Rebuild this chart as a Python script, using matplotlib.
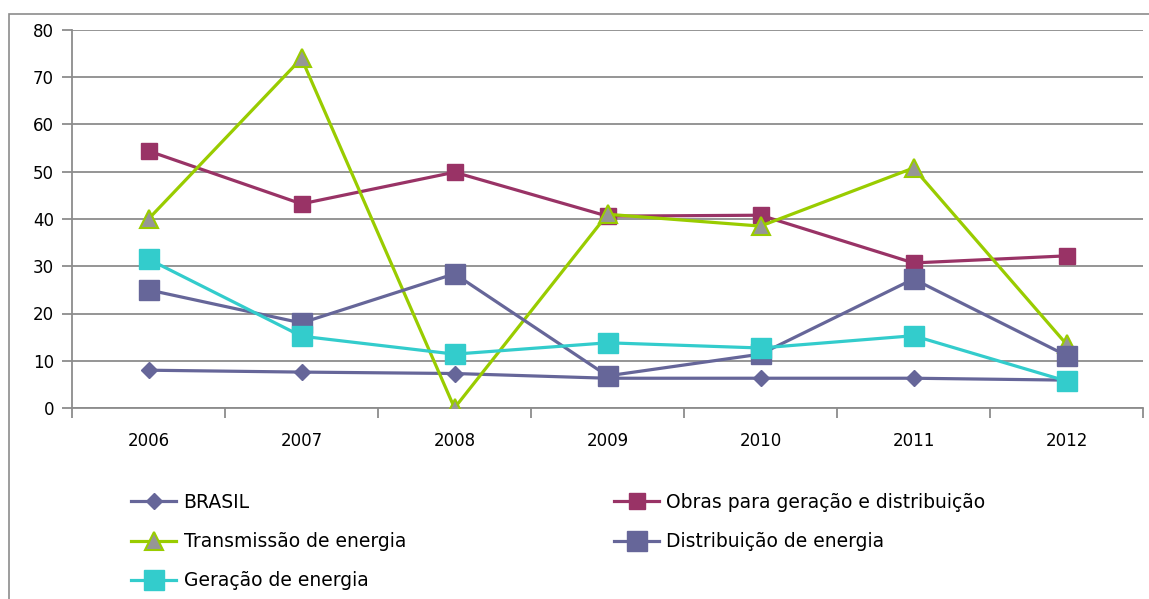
import matplotlib
matplotlib.use("Agg")
import matplotlib.pyplot as plt
from matplotlib.patches import Rectangle
import numpy as np

#### Data

anos = ['2006', '2007', '2008', '2009', '2010', '2011', '2012']
brasil = [8.0, 7.6, 7.3, 6.3, 6.3, 6.3, 5.9]
obras = [54.4, 43.2, 49.9, 40.6, 40.8, 30.7, 32.2]
transmissao = [40.0, 74.0, 0.0, 41.0, 38.5, 50.8, 13.5]
distribuicao = [25.0, 18.0, 28.4, 6.8, 11.4, 27.3, 11.1]
geracao = [31.5, 15.2, 11.4, 13.8, 12.7, 15.3, 5.7]

#### Figure

W, H = 1149, 599
fig = plt.figure(figsize=(W / 100, H / 100), dpi=100)
ax = fig.add_axes([72 / W, (H - 408) / H, (1143 - 72) / W, (408 - 30) / H])

# outer chart frame
fig.patches.append(Rectangle((9 / W, -0.1), 1.2, (H - 14) / H + 0.1,
                             transform=fig.transFigure, fill=False,
                             edgecolor='#8c8c8c', linewidth=1.2))

x = np.arange(len(anos))
lw = 2.3

l1, = ax.plot(x, brasil, color='#666699', lw=lw, marker='D', ms=8,
              mfc='#666699', mec='#666699', label='BRASIL', zorder=3)
l2, = ax.plot(x, obras, color='#993366', lw=lw, marker='s', ms=11,
              mfc='#993366', mec='#993366',
              label='Obras para geração e distribuição', zorder=3)
l3, = ax.plot(x, transmissao, color='#99CC00', lw=lw, marker='^', ms=13,
              mfc='#969696', mec='#99CC00', mew=1.5,
              label='Transmissão de energia', zorder=3)
l4, = ax.plot(x, distribuicao, color='#666699', lw=lw, marker='s', ms=15,
              mfc='#666699', mec='#666699',
              label='Distribuição de energia', zorder=3)
l5, = ax.plot(x, geracao, color='#33CCCC', lw=lw, marker='s', ms=15,
              mfc='#33CCCC', mec='#33CCCC',
              label='Geração de energia', zorder=3)

ax.set_xlim(-0.5, len(anos) - 0.5)
ax.set_ylim(0, 80)
ax.set_yticks(np.arange(0, 81, 10))
ax.set_xticks(x)
ax.set_xticklabels(anos)
ax.set_xticks(np.arange(-0.5, len(anos), 1), minor=True)

gc = '#8c8c8c'
ax.yaxis.grid(True, color=gc, linewidth=1.3, zorder=0)
ax.set_axisbelow(True)
for s in ['top', 'right']:
    ax.spines[s].set_visible(False)
ax.spines['left'].set_color(gc)
ax.spines['bottom'].set_color(gc)
ax.spines['left'].set_linewidth(1.3)
ax.spines['bottom'].set_linewidth(1.3)

ax.tick_params(axis='y', length=7, width=1.3, color=gc, pad=6, labelsize=12)
ax.tick_params(axis='x', which='major', length=0, pad=17, labelsize=12)
ax.tick_params(axis='x', which='minor', length=7, width=1.3, color=gc)

# legend in two columns placed by hand
leg_kw = dict(loc='upper left', frameon=False, fontsize=13.5, handlelength=2.4,
              handletextpad=0.4, labelspacing=1.08, borderaxespad=0,
              borderpad=0)
col1 = [l1, l3, l5]
col2 = [l2, l4]
fig.legend(handles=col1, labels=[h.get_label() for h in col1],
           bbox_to_anchor=(131 / W, (H - 493) / H), **leg_kw)
fig.legend(handles=col2, labels=[h.get_label() for h in col2],
           bbox_to_anchor=(614 / W, (H - 493) / H), **leg_kw)

fig.savefig('out.png', dpi=100)
